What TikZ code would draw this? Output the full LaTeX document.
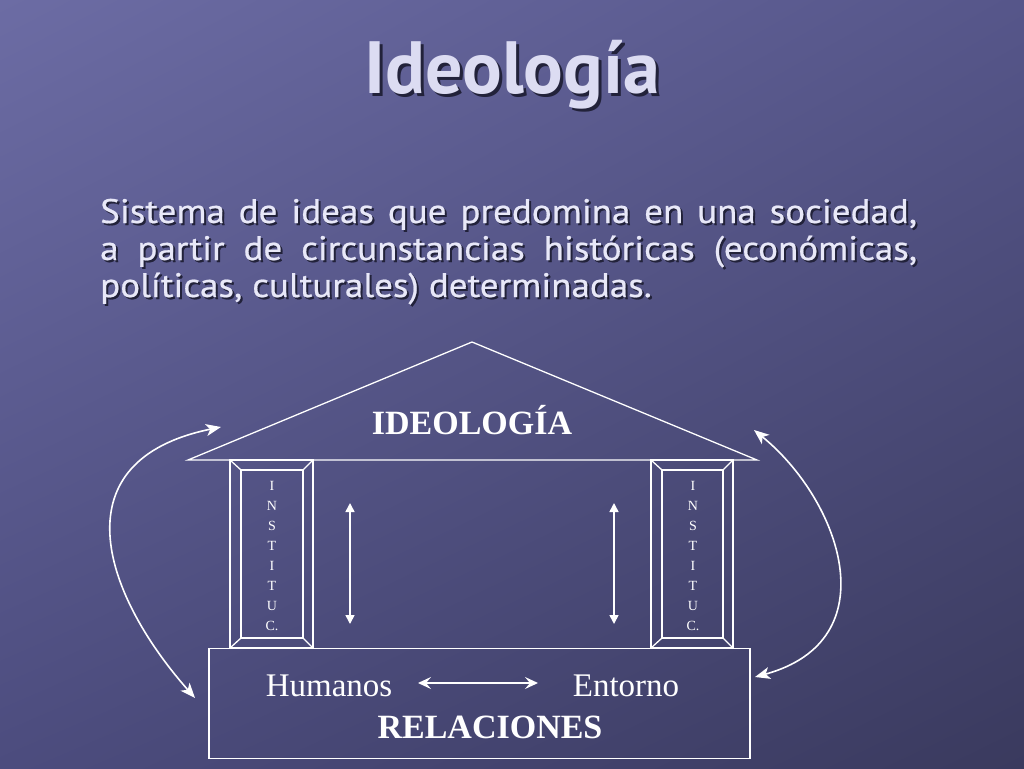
\documentclass[tikz,border=0pt]{standalone}
\usepackage{fontspec}
\setmainfont{Liberation Serif}
\newfontfamily\gill[FakeStretch=1.09,FakeBold=0.6]{PT Sans}
\newfontfamily\gilltitle{PT Sans}
\usetikzlibrary{arrows.meta,shadings}
\definecolor{ttl}{HTML}{DCDCF2}
\definecolor{bodyc}{HTML}{E8E8F8}
\definecolor{shad}{HTML}{22223A}
\definecolor{bgul}{HTML}{6C6CA4}
\definecolor{bgur}{HTML}{56568A}
\definecolor{bgll}{HTML}{4C4C7E}
\definecolor{bglr}{HTML}{3A3A5E}
\tikzset{
  wline/.style={draw=white, line width=1.3pt},
  tiparrow/.style={white, line width=1.6pt, {Stealth[length=15pt,width=12pt,inset=4pt]}-{Stealth[length=15pt,width=12pt,inset=4pt]}},
  hiparrow/.style={white, line width=1.6pt, {Stealth[length=13pt,width=12pt,inset=5pt]}-{Stealth[length=13pt,width=12pt,inset=5pt]}},
  tri/.style={white, line width=1.6pt, {Triangle[length=9pt,width=9pt]}-{Triangle[length=9pt,width=9pt]}},
  serifw/.style={text=white, inner sep=0pt, font=\fontsize{33}{36}\selectfont},
  letters/.style={text=white, inner sep=0pt, align=center, font=\fontsize{14}{20}\selectfont},
  bodyf/.style={anchor=base west, inner sep=0pt, font=\gill\fontsize{34}{37}\selectfont},
}
\begin{document}
\begin{tikzpicture}[x=1pt,y=-1pt]
\useasboundingbox (0,0) rectangle (1024,768);
\shade[upper left=bgul, upper right=bgur, lower left=bgll, lower right=bglr]
  (0,0) rectangle (1024,768);
% title
\node (titleshadow) [text=shad, inner sep=0pt, font=\gilltitle\bfseries\fontsize{74}{80}\selectfont] at (515,78) {Ideología};
\node (title) [text=ttl, inner sep=0pt, font=\gilltitle\bfseries\fontsize{74}{80}\selectfont] at (512,75) {Ideología};
% body
\foreach \dx/\dy/\c in {2/2/shad,0/0/bodyc}{
  \node[bodyf, text=\c] at (100+\dx,223+\dy)
    {\makebox[817pt][s]{Sistema de ideas que predomina en una sociedad,}};
  \node[bodyf, text=\c] at (100+\dx,260+\dy)
    {\makebox[817pt][s]{a partir de circunstancias históricas (económicas,}};
  \node[bodyf, text=\c] at (100+\dx,297+\dy)
    {políticas, culturales) determinadas.};
}
% roof
\coordinate (apex) at (472,342);
\coordinate (rl) at (188,460);
\coordinate (rr) at (757,460);
\draw[wline] (rl) -- (apex) -- (rr) -- cycle;
\node (ideo) [serifw, font=\bfseries\fontsize{34}{36}\selectfont] at (472,420) {IDEOLOGÍA};
% pillars
\foreach \xo/\xi/\xj/\xp in {230/241/303/313, 651/662/723/733}{
  \draw[wline] (\xo,460) rectangle (\xp,648);
  \draw[wline] (\xi,470) rectangle (\xj,638);
  \draw[wline] (\xo,460) -- (\xi,470) (\xp,460) -- (\xj,470) (\xo,648) -- (\xi,638) (\xp,648) -- (\xj,638);
}
\node (instL) [letters, anchor=north] at (272,481) {I\\N\\S\\T\\I\\T\\U\\C.};
\node (instR) [letters, anchor=north] at (693,481) {I\\N\\S\\T\\I\\T\\U\\C.};
% base
\node (rel) [draw=white, line width=1.3pt, minimum width=541pt, minimum height=110pt, inner sep=0pt] at (479.5,703.5) {};
\node (hum) [serifw] at (329,686) {Humanos};
\node (ent) [serifw] at (626,686) {Entorno};
\node (relt) [serifw, font=\bfseries\fontsize{34}{36}\selectfont] at (490,727) {RELACIONES};
\coordinate (ha) at (418,683);
\coordinate (hb) at (538,683);
\draw[hiparrow] (ha) -- (hb);
% vertical arrows
\coordinate (v1a) at (350,503);
\coordinate (v1b) at (350,624);
\coordinate (v2a) at (614,503);
\coordinate (v2b) at (614,624);
\draw[tri] (v1a) -- (v1b);
\draw[tri] (v2a) -- (v2b);
% curved arrows
\coordinate (c1a) at (221,427);
\coordinate (c1b) at (195,698);
\coordinate (c2a) at (754,430);
\coordinate (c2b) at (755,677);
\draw[tiparrow] (c1a) .. controls (60,460) and (100,590) .. (c1b);
\draw[tiparrow] (c2a) .. controls (840,500) and (890,640) .. (c2b);
\end{tikzpicture}
\end{document}
